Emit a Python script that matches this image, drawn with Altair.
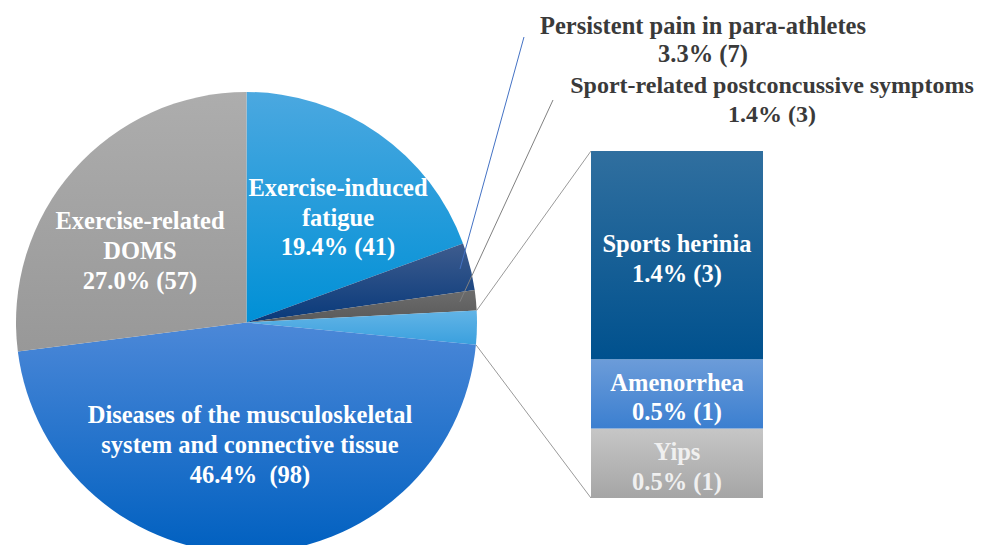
import math
import altair as alt
import pandas as pd

# ---------------- data ----------------
pie_keys = ["fatigue", "pain", "concussion", "other", "musculoskeletal", "doms"]
pie_names = [
    "Exercise-induced\nfatigue",
    "Persistent pain in para-athletes",
    "Sport-related postconcussive symptoms",
    "Other",
    "Diseases of the musculoskeletal\nsystem and connective tissue",
    "Exercise-related\nDOMS",
]
pie_counts = [41, 7, 3, 5, 98, 57]
pie_pct = ["19.4% (41)", "3.3% (7)", "1.4% (3)", "2.4% (5)", "46.4%\u00a0 (98)", "27.0% (57)"]

bar_keys = ["yips", "amenorrhea", "hernia"]          # bottom -> top
bar_names = ["Yips", "Amenorrhea", "Sports herinia"]
bar_counts = [1, 1, 3]
bar_pct = ["0.5% (1)", "0.5% (1)", "1.4% (3)"]

# ---------------- layout / style ----------------
W, H = 969, 537
CX, CY, R = 238.5, 314.5, 230.5
BAR_X0, BAR_X1 = 583, 755
BAR_Y_BOTTOM, BAR_Y_TOP = 490, 143
FONT = "Liberation Serif"
FS = 24.5

def grad(top, bottom):
    return alt.LinearGradient(
        gradient="linear",
        stops=[alt.GradientStop(color=top, offset=0), alt.GradientStop(color=bottom, offset=1)],
        x1=0, x2=0, y1=0, y2=1,
    )

pie_fill = {
    "fatigue": grad("#4ba8e0", "#0090d6"),
    "pain": grad("#3e5c8e", "#08397a"),
    "concussion": grad("#6c6c6c", "#5a5a5a"),
    "other": grad("#62b4e6", "#3aa0de"),
    "musculoskeletal": grad("#4c88d8", "#0060c0"),
    "doms": grad("#adadad", "#989898"),
}
bar_fill = {
    "hernia": grad("#306f9f", "#00518e"),
    "amenorrhea": grad("#6c9cd9", "#3b7fd0"),
    "yips": grad("#c6c6c6", "#a5a5a5"),
}

# ---------------- pie ----------------
pie_df = pd.DataFrame({"key": pie_keys, "count": pie_counts, "order": list(range(len(pie_keys)))})
pie_base = (
    alt.Chart(pie_df)
    .transform_joinaggregate(total="sum(count)")
    .transform_window(cum="sum(count)", sort=[alt.SortField("order")], frame=[None, 0])
    .transform_calculate(s0="(datum.cum - datum.count) / datum.total", s1="datum.cum / datum.total")
)
theta_scale = alt.Scale(domain=[0, 1], range=[0, 2 * math.pi])
layers = []
for k in pie_keys:
    layers.append(
        pie_base.transform_filter(alt.datum.key == k)
        .mark_arc(radius=R, fill=pie_fill[k])
        .encode(
            theta=alt.Theta("s0:Q", scale=theta_scale),
            theta2="s1:Q",
            x=alt.value(CX),
            y=alt.value(CY),
        )
    )

# ---------------- bar of pie ----------------
bar_df = pd.DataFrame({
    "key": bar_keys,
    "count": bar_counts,
    "order": list(range(len(bar_keys))),
    "label": [f"{n}\n{p}" for n, p in zip(bar_names, bar_pct)],
})
bar_base = (
    alt.Chart(bar_df)
    .transform_joinaggregate(total="sum(count)")
    .transform_window(cum="sum(count)", sort=[alt.SortField("order")], frame=[None, 0])
    .transform_calculate(
        b0="(datum.cum - datum.count) / datum.total",
        b1="datum.cum / datum.total",
        bm="(datum.cum - datum.count / 2) / datum.total",
    )
)
y_scale = alt.Scale(domain=[0, 1], range=[BAR_Y_BOTTOM, BAR_Y_TOP])
for k in bar_keys:
    layers.append(
        bar_base.transform_filter(alt.datum.key == k)
        .mark_bar(fill=bar_fill[k])
        .encode(
            y=alt.Y("b0:Q", scale=y_scale, axis=None),
            y2="b1:Q",
            x=alt.value(BAR_X0),
            x2=alt.value(BAR_X1),
        )
    )
layers.append(
    bar_base.mark_text(font=FONT, fontSize=FS, fontWeight="bold", align="center",
                       lineBreak="\n", lineHeight=29.5, dy=-10)
    .encode(
        y=alt.Y("bm:Q", scale=y_scale, axis=None),
        x=alt.value((BAR_X0 + BAR_X1) / 2),
        text="label:N",
        color=alt.Color("key:N", scale=alt.Scale(domain=bar_keys, range=["#f0f0f0", "#ffffff", "#ffffff"]), legend=None),
    )
)

# ---------------- connector / leader lines ----------------
total = sum(pie_counts)
cum = [sum(pie_counts[:i]) for i in range(len(pie_counts) + 1)]

def pt(frac, rr):
    a = frac * 2 * math.pi
    return CX + rr * math.sin(a), CY - rr * math.cos(a)

i_other = pie_keys.index("other")
p_top = pt(cum[i_other] / total, R)
p_bot = pt(cum[i_other + 1] / total, R)
i_pain = pie_keys.index("pain")
p_pain = pt((cum[i_pain] + pie_counts[i_pain] / 2) / total, 0.955 * R)
i_conc = pie_keys.index("concussion")
p_conc = pt((cum[i_conc] + pie_counts[i_conc] / 2) / total, 0.93 * R)

line_specs = [
    (p_top, (BAR_X0, BAR_Y_TOP), "#9a9a9a"),
    (p_bot, (BAR_X0, BAR_Y_BOTTOM), "#9a9a9a"),
    (p_pain, (516, 29), "#4472c4"),
    (p_conc, (545, 92), "#808080"),
]
dummy = pd.DataFrame({"d": [0]})
for (a, b, c) in line_specs:
    layers.append(
        alt.Chart(dummy).mark_rule(color=c, strokeWidth=1).encode(
            x=alt.value(a[0]), y=alt.value(a[1]), x2=alt.value(b[0]), y2=alt.value(b[1])
        )
    )

# ---------------- pie labels ----------------
# (centre x, visual centre of first line, line height, colour, font size) in chart pixels
label_layout = {
    "fatigue": (330, 181, 29.5, "#ffffff", FS),
    "doms": (132, 214, 30, "#ffffff", FS),
    "musculoskeletal": (242, 408, 30, "#ffffff", FS),
    "pain": (695, 18.5, 28.5, "#3a3a3a", FS),
    "concussion": (764, 78, 29, "#3a3a3a", 24),
}
for k, (lx, ly, lh, col, fs) in label_layout.items():
    i = pie_keys.index(k)
    txt = f"{pie_names[i]}\n{pie_pct[i]}"
    layers.append(
        alt.Chart(pd.DataFrame({"t": [txt]}))
        .mark_text(font=FONT, fontSize=fs, fontWeight="bold", align="center",
                   lineBreak="\n", lineHeight=lh, color=col)
        .encode(text="t:N", x=alt.value(lx), y=alt.value(ly))
    )

chart = (
    alt.layer(*layers)
    .properties(width=W, height=H, autosize=alt.AutoSizeParams(type="none"), padding=0)
    .configure_view(strokeWidth=0)
)
chart.save("out.html", embed_options={"renderer": "svg", "actions": False})
